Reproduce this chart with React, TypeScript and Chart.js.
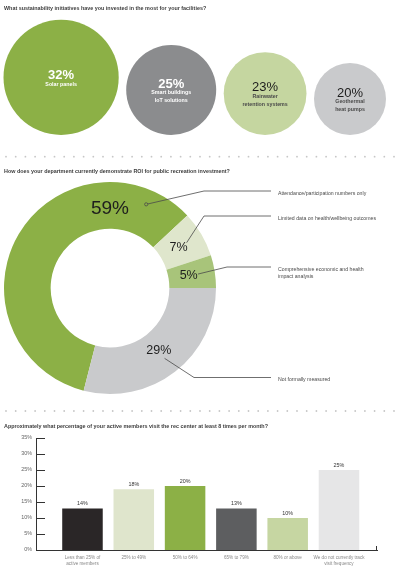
import React, { useEffect, useRef } from 'react';
import { Chart, registerables } from 'chart.js';

Chart.register(...registerables);

// ---------------- data ----------------
const bubbleTitle = 'What sustainability initiatives have you invested in the most for your facilities?';
const bubbleLabels: string[][] = [
  ['Solar panels'],
  ['Smart buildings', 'IoT solutions'],
  ['Rainwater', 'retention systems'],
  ['Geothermal', 'heat pumps'],
];
const bubbleValues = [32, 25, 23, 20];

const roiTitle = 'How does your department currently demonstrate ROI for public recreation investment?';
const roiLabels: string[][] = [
  ['Attendance/participation numbers only'],
  ['Limited data on health/wellbeing outcomes'],
  ['Comprehensive economic and health', 'impact analysis'],
  ['Not formally measured'],
];
const roiValues = [59, 7, 5, 29];

const visitTitle =
  'Approximately what percentage of your active members visit the rec center at least 8 times per month?';
const visitCategories: (string | string[])[] = [
  ['Less than 25% of', 'active members'],
  '25% to 49%',
  '50% to 64%',
  '65% to 79%',
  '80% or above',
  ['We do not currently track', 'visit frequency'],
];
const visitValues = [13, 19, 20, 13, 10, 25]; // bar heights as drawn
const visitValueLabels = ['14%', '18%', '20%', '13%', '10%', '25%']; // printed labels
const visitAxisMax = 35;
const visitAxisStep = 5;

// ---------------- styles / layout ----------------
const FONT = '"Liberation Sans", "DejaVu Sans", Arial, sans-serif';
const f = (size: number, weight: string = 'normal') => `${weight} ${size}px ${FONT}`;

const bubbleColors = ['#8cb046', '#8b8c8e', '#c5d6a0', '#c9cacc'];
const bubbleDarkText = [false, false, true, true];
const BUBBLE_PX_PER_POINT = 1.8;
const BUBBLE_LEFT = 3.5;
const BUBBLE_RIGHT = 386;
const BUBBLE_BASELINE = 135;
const BUBBLE_W = 400;
const BUBBLE_H = 150;

const roiColors = ['#8cb046', '#dfe6cc', '#a8c47a', '#c9cacc'];
const CALLOUT_Y = [41, 66, 117, 227.5];
const CALLOUT_ELBOW_X = [204, 204, 227, 194];
const CALLOUT_END_X = 271;
const CALLOUT_TEXT_X = 278;

const visitColors = ['#2a2627', '#dfe5cc', '#8cb046', '#5d5e60', '#c6d6a2', '#e6e6e7'];

const TITLE_COLOR = '#3d3d3d';

function drawDots(ctx: CanvasRenderingContext2D, y: number, width: number) {
  ctx.save();
  ctx.fillStyle = '#c6c6c6';
  for (let x = 6; x < width - 2; x += 9.7) {
    ctx.beginPath();
    ctx.arc(x, y, 0.9, 0, Math.PI * 2);
    ctx.fill();
  }
  ctx.restore();
}

function drawTitle(ctx: CanvasRenderingContext2D, text: string, y: number) {
  ctx.save();
  ctx.font = f(5.4, 'bold');
  ctx.fillStyle = TITLE_COLOR;
  ctx.textAlign = 'left';
  ctx.textBaseline = 'middle';
  ctx.fillText(text, 4, y);
  ctx.restore();
}

// ---------------- bubble section ----------------
function BubbleSection() {
  const ref = useRef<HTMLCanvasElement>(null);
  useEffect(() => {
    const radii = bubbleValues.map((v) => v * BUBBLE_PX_PER_POINT);
    const total = radii.reduce((a, b) => a + 2 * b, 0);
    const gap = (BUBBLE_RIGHT - BUBBLE_LEFT - total) / (radii.length - 1);
    let cursor = BUBBLE_LEFT;
    const points = radii.map((r) => {
      const x = cursor + r;
      cursor += 2 * r + gap;
      return { x, y: BUBBLE_BASELINE - r, r };
    });
    // Chart.js insets the chart area by the largest bubble radius;
    // use matching scale bounds so one scale unit equals one pixel.
    const m = Math.max(...radii);

    const plugin = {
      id: 'bubbleText',
      afterDatasetsDraw(chart: any) {
        const ctx: CanvasRenderingContext2D = chart.ctx;
        const meta = chart.getDatasetMeta(0);
        ctx.save();
        ctx.textAlign = 'center';
        ctx.textBaseline = 'middle';
        meta.data.forEach((el: any, i: number) => {
          const { x, y } = el.getProps(['x', 'y'], true);
          const lines = bubbleLabels[i];
          const dark = bubbleDarkText[i];
          const numY = y - 2 - 4 * (lines.length - 1);
          ctx.fillStyle = dark ? '#1d1d1d' : '#ffffff';
          ctx.font = f(13, dark ? 'normal' : 'bold');
          ctx.fillText(bubbleValues[i] + '%', x, numY);
          ctx.font = f(5.3, 'bold');
          ctx.fillStyle = dark ? '#4a4a4a' : '#ffffff';
          lines.forEach((l, j) => ctx.fillText(l, x, numY + 9 + j * 8));
        });
        ctx.restore();
        drawTitle(ctx, bubbleTitle, 8.3);
      },
    };

    const chart = new Chart(ref.current!, {
      type: 'bubble',
      data: {
        datasets: [
          {
            data: points,
            backgroundColor: bubbleColors,
            borderWidth: 0,
            hoverBorderWidth: 0,
            hoverRadius: 0,
            clip: false,
          } as any,
        ],
      },
      options: {
        responsive: false,
        animation: false,
        events: [],
        layout: { padding: 0 },
        scales: {
          x: { type: 'linear', min: m, max: BUBBLE_W - m, display: false },
          y: { type: 'linear', min: m, max: BUBBLE_H - m, reverse: true, display: false },
        },
        plugins: { legend: { display: false }, tooltip: { enabled: false } },
      },
      plugins: [plugin],
    });
    return () => chart.destroy();
  }, []);
  return (
    <canvas
      ref={ref}
      width={BUBBLE_W}
      height={BUBBLE_H}
      style={{ position: 'absolute', left: 0, top: 0, width: BUBBLE_W, height: BUBBLE_H }}
    />
  );
}

// ---------------- doughnut section ----------------
function RoiSection() {
  const ref = useRef<HTMLCanvasElement>(null);
  useEffect(() => {
    const total = roiValues.reduce((a, b) => a + b, 0);
    const maxVal = Math.max(...roiValues);
    const plugin = {
      id: 'roiText',
      afterDatasetsDraw(chart: any) {
        const ctx: CanvasRenderingContext2D = chart.ctx;
        const meta = chart.getDatasetMeta(0);
        drawDots(ctx, 6.7, 400);
        drawTitle(ctx, roiTitle, 21.7);
        ctx.save();
        meta.data.forEach((el: any, i: number) => {
          const p = el.getProps(['x', 'y', 'startAngle', 'endAngle', 'innerRadius', 'outerRadius'], true);
          // angles measured from the top, clockwise, in degrees
          const aS = (((p.startAngle * 180) / Math.PI + 90) % 360 + 360) % 360;
          const aE = aS + ((p.endAngle - p.startAngle) * 180) / Math.PI;
          const mid = (aS + aE) / 2;
          // percentage label
          let labelA = mid;
          if (aS <= 360 && aE >= 360) labelA = 360;
          const rMid = (p.innerRadius + p.outerRadius) / 2 - 3;
          const rad = (labelA * Math.PI) / 180;
          const lx = p.x + rMid * Math.sin(rad);
          const ly = p.y - rMid * Math.cos(rad);
          ctx.fillStyle = '#1e1e1e';
          ctx.textAlign = 'center';
          ctx.textBaseline = 'middle';
          ctx.font = f(roiValues[i] === maxVal ? 19 : 12.5);
          ctx.fillText(Math.round((roiValues[i] / total) * 100) + '%', lx, ly);

          // callout anchor: arc middle if on the right half, else middle of its right-half part
          let anchorDeg = mid;
          if (!(mid >= 0 && mid <= 180)) {
            let s = aS, e = aE;
            if (e > 360) s = Math.max(s, 360);
            else { e = Math.min(e, 180); s = Math.max(s, 0); }
            anchorDeg = (s + e) / 2;
          }
          const anchorA = (anchorDeg * Math.PI) / 180;
          const rA = p.outerRadius * (roiValues[i] === maxVal ? 0.86 : 0.84);
          const ax = p.x + rA * Math.sin(anchorA);
          const ay = p.y - rA * Math.cos(anchorA);
          const cy = CALLOUT_Y[i];
          ctx.strokeStyle = '#4a4a4a';
          ctx.lineWidth = 0.8;
          ctx.beginPath();
          ctx.moveTo(ax, ay);
          ctx.lineTo(CALLOUT_ELBOW_X[i], cy);
          ctx.lineTo(CALLOUT_END_X, cy);
          ctx.stroke();
          if (roiValues[i] === maxVal) {
            ctx.beginPath();
            ctx.arc(ax, ay, 1.6, 0, Math.PI * 2);
            ctx.fillStyle = '#8cb046';
            ctx.fill();
            ctx.stroke();
          }
          ctx.fillStyle = '#4a4a4a';
          ctx.textAlign = 'left';
          ctx.font = f(5.2);
          roiLabels[i].forEach((l, j) => ctx.fillText(l, CALLOUT_TEXT_X, cy + 2.5 + j * 7));
        });
        ctx.restore();
      },
    };
    const chart = new Chart(ref.current!, {
      type: 'doughnut',
      data: {
        labels: roiLabels.map((l) => l.join(' ')),
        datasets: [{ data: roiValues, backgroundColor: roiColors, borderWidth: 0, hoverOffset: 0 }],
      },
      options: {
        responsive: false,
        animation: false,
        events: [],
        rotation: 90 + (roiValues[3] / 100) * 360,
        cutout: '56%',
        layout: { padding: { left: 4, top: 32, right: 184, bottom: 6 } },
        plugins: { legend: { display: false }, tooltip: { enabled: false } },
      },
      plugins: [plugin],
    });
    return () => chart.destroy();
  }, []);
  return (
    <canvas
      ref={ref}
      width={400}
      height={250}
      style={{ position: 'absolute', left: 0, top: 150, width: 400, height: 250 }}
    />
  );
}

// ---------------- bar section ----------------
function VisitSection() {
  const ref = useRef<HTMLCanvasElement>(null);
  useEffect(() => {
    const plugin = {
      id: 'visitText',
      afterDatasetsDraw(chart: any) {
        const ctx: CanvasRenderingContext2D = chart.ctx;
        drawDots(ctx, 11, 400);
        drawTitle(ctx, visitTitle, 26.7);
        const meta = chart.getDatasetMeta(0);
        const yScale = chart.scales.y;
        const area = chart.chartArea;
        ctx.save();
        // bar value labels
        ctx.fillStyle = '#333';
        ctx.textAlign = 'center';
        ctx.textBaseline = 'bottom';
        ctx.font = f(5.4);
        meta.data.forEach((el: any, i: number) => {
          const { x, y } = el.getProps(['x', 'y'], true);
          ctx.fillText(visitValueLabels[i], x, y - 2);
        });
        // inner tick marks on y axis
        ctx.strokeStyle = '#333';
        ctx.lineWidth = 1;
        yScale.ticks.forEach((t: any) => {
          const py = Math.round(yScale.getPixelForValue(t.value)) + 0.5;
          ctx.beginPath();
          ctx.moveTo(area.left, py);
          ctx.lineTo(area.left + 9, py);
          ctx.stroke();
        });
        // end tick on x axis
        ctx.beginPath();
        ctx.moveTo(area.right - 0.5, area.bottom);
        ctx.lineTo(area.right - 0.5, area.bottom - 4);
        ctx.stroke();
        ctx.restore();
      },
    };
    const xMin = -0.906;
    const xMax = 5.741;
    const chart = new Chart(ref.current!, {
      type: 'bar',
      data: {
        datasets: [
          {
            data: visitValues.map((v, i) => ({ x: i, y: v })),
            backgroundColor: visitColors,
            borderWidth: 0,
            barPercentage: 0.79,
            categoryPercentage: 1,
          } as any,
        ],
      },
      options: {
        responsive: false,
        animation: false,
        events: [],
        layout: { padding: { top: 38, right: 23, left: 0, bottom: 0 } },
        scales: {
          x: {
            type: 'linear',
            min: xMin,
            max: xMax,
            offset: false,
            afterFit: (s: any) => {
              s.height = 19;
            },
            grid: { display: false, drawTicks: false },
            border: { display: true, color: '#333', width: 1 },
            ticks: {
              stepSize: 1,
              includeBounds: false,
              autoSkip: false,
              maxRotation: 0,
              padding: 5,
              color: '#888',
              font: { family: FONT, size: 4.6 },
              callback: (v: any) => (Number.isInteger(v) && visitCategories[v] !== undefined ? visitCategories[v] : ''),
            },
          },
          y: {
            min: 0,
            max: visitAxisMax,
            afterFit: (s: any) => {
              s.width = 36;
            },
            grid: { display: false, drawTicks: false },
            border: { display: true, color: '#333', width: 1 },
            ticks: {
              stepSize: visitAxisStep,
              padding: 4,
              color: '#666',
              font: { family: FONT, size: 5.4 },
              callback: (v: any) => v + '%',
            },
          },
        },
        plugins: { legend: { display: false }, tooltip: { enabled: false } },
      },
      plugins: [plugin],
    });
    return () => chart.destroy();
  }, []);
  return (
    <canvas
      ref={ref}
      width={400}
      height={169}
      style={{ position: 'absolute', left: 0, top: 400, width: 400, height: 169 }}
    />
  );
}

export default function App() {
  return (
    <div style={{ position: 'absolute', left: 0, top: 0, width: 400, height: 569, background: '#ffffff' }}>
      <BubbleSection />
      <RoiSection />
      <VisitSection />
    </div>
  );
}
